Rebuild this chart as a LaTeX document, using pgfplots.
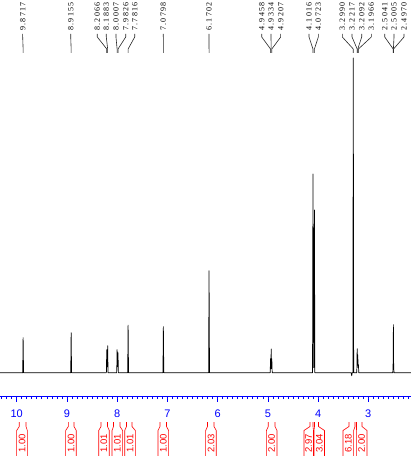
\documentclass[border=0pt]{standalone}
\usepackage{fontspec}
\setmainfont{Liberation Serif}
\newfontfamily\lbl[LetterSpace=16]{Liberation Serif}
\newfontfamily\arial{Liberation Sans}
\usepackage{pgfplots}
\pgfplotsset{compat=1.18}
\definecolor{axblue}{RGB}{0,0,255}
\definecolor{intred}{RGB}{255,0,0}
% peak label: label x, peak x, text
\newcommand\pk[3]{%
  \node[rotate=90,anchor=west,inner sep=0pt,text=black,font=\lbl\fontsize{8}{8}\selectfont] at (axis cs:#1,341.7) {#3};
  \draw[line width=0.6pt,black!85] (axis cs:#1,338.7) -- (axis cs:#1,335.7) -- (axis cs:#2,323.7) -- (axis cs:#2,319.7);
}
% integral: neckL, neckR, boxL, boxR, centre, text
\newcommand\intg[6]{%
  \draw[intred,line width=0.6pt] (axis cs:#1,-49.3) -- (axis cs:#1,-53.8) -- (axis cs:#3,-57.8) -- (axis cs:#3,-86);
  \draw[intred,line width=0.6pt] (axis cs:#2,-49.3) -- (axis cs:#2,-53.8) -- (axis cs:#4,-57.8) -- (axis cs:#4,-86);
  \node[rotate=90,inner sep=0pt,text=intred,font=\arial\fontsize{9.5}{9.5}\selectfont] at (axis cs:#5,-70.8) {#6};
}
\begin{document}
\begin{tikzpicture}
\path[use as bounding box] (0,0) rectangle (411pt,456pt);
\begin{axis}[
  at={(0pt,59.3pt)}, anchor=south west,
  width=411pt, height=338.7pt, scale only axis,
  xmin=2.15, xmax=10.332, ymin=-24, ymax=314.7,
  x dir=reverse, clip=false,
  axis x line*=bottom, axis y line=none,
  x axis line style={axblue,line width=0.8pt},
  xtick={3,4,5,6,7,8,9,10},
  minor xtick={2.2,2.3,2.4,2.5,2.6,2.7,2.8,2.9,3.1,3.2,3.3,3.4,3.5,3.6,3.7,3.8,3.9,4.1,4.2,4.3,4.4,4.5,4.6,4.7,4.8,4.9,5.1,5.2,5.3,5.4,5.5,5.6,5.7,5.8,5.9,6.1,6.2,6.3,6.4,6.5,6.6,6.7,6.8,6.9,7.1,7.2,7.3,7.4,7.5,7.6,7.7,7.8,7.9,8.1,8.2,8.3,8.4,8.5,8.6,8.7,8.8,8.9,9.1,9.2,9.3,9.4,9.5,9.6,9.7,9.8,9.9,10.1,10.2,10.3},
  xtick align=outside,
  major tick length=5pt, minor tick length=2.5pt,
  every tick/.style={axblue,line width=0.6pt},
  xticklabel style={anchor=north,inner sep=0pt,text=axblue,font=\arial\fontsize{11}{11}\selectfont,yshift=-7.6pt},
  /pgf/number format/assume math mode=true,
]
\addplot[black,line width=0.7pt,line join=round,mark=none] coordinates {
(10.332,0)
(9.880,0) (9.8717,35) (9.863,0)
(8.924,0) (8.9155,40) (8.907,0)
(8.214,0) (8.2066,23) (8.197,6) (8.1883,27) (8.181,0)
(8.008,0) (8.0007,23) (7.991,6) (7.9826,20) (7.975,0)
(7.790,0) (7.7816,47.5) (7.773,0)
(7.088,0) (7.0798,46) (7.071,0)
(6.179,0) (6.1702,102) (6.161,0)
(4.953,0) (4.9458,14) (4.939,4) (4.9334,23.7) (4.927,4) (4.9207,14) (4.913,0)
(4.110,0) (4.1016,198.7) (4.087,5) (4.0723,162.7) (4.064,0)
(3.340,0) (3.330,-3) (3.320,0) (3.307,0) (3.299,314.7) (3.291,0)
(3.229,0) (3.2217,24) (3.215,8) (3.2092,18) (3.203,5) (3.1966,8) (3.189,0)
(2.512,0) (2.5041,12) (2.5005,48) (2.4970,12) (2.489,0)
(2.15,0)
};
% peak labels
\pk{9.880}{9.8717}{9.8717}
\pk{8.924}{8.9155}{8.9155}
\pk{8.395}{8.2066}{8.2066}
\pk{8.216}{8.1883}{8.1883}
\pk{8.023}{8.0007}{8.0007}
\pk{7.829}{7.9826}{7.9826}
\pk{7.650}{7.7816}{7.7816}
\pk{7.081}{7.0798}{7.0798}
\pk{6.171}{6.1702}{6.1702}
\pk{5.122}{4.9458}{4.9458}
\pk{4.937}{4.9334}{4.9334}
\pk{4.744}{4.9207}{4.9207}
\pk{4.180}{4.1016}{4.1016}
\pk{3.995}{4.0723}{4.0723}
\pk{3.517}{3.2990}{3.2990}
\pk{3.324}{3.2217}{3.2217}
\pk{3.131}{3.2092}{3.2092}
\pk{2.940}{3.1966}{3.1966}
\pk{2.673}{2.5041}{2.5041}
\pk{2.488}{2.5005}{2.5005}
\pk{2.289}{2.4970}{2.4970}
% integrals
\intg{9.948}{9.814}{10.000}{9.788}{9.894}{1.00}
\intg{8.972}{8.859}{9.024}{8.813}{8.918}{1.00}
\intg{8.321}{8.192}{8.367}{8.156}{8.262}{1.01}
\intg{8.072}{7.943}{8.102}{7.891}{7.997}{1.01}
\intg{7.814}{7.704}{7.849}{7.638}{7.744}{1.01}
\intg{7.147}{7.017}{7.186}{6.975}{7.081}{1.00}
\intg{6.201}{6.072}{6.237}{6.026}{6.131}{2.03}
\intg{4.991}{4.857}{5.028}{4.817}{4.923}{2.00}
\intg{4.160}{4.101}{4.280}{4.091}{4.186}{2.97}
\intg{4.071}{3.991}{4.081}{3.872}{3.975}{3.04}
\intg{3.384}{3.264}{3.503}{3.292}{3.398}{6.18}
\intg{3.235}{3.125}{3.236}{3.026}{3.131}{2.00}
\end{axis}
\end{tikzpicture}
\end{document}
